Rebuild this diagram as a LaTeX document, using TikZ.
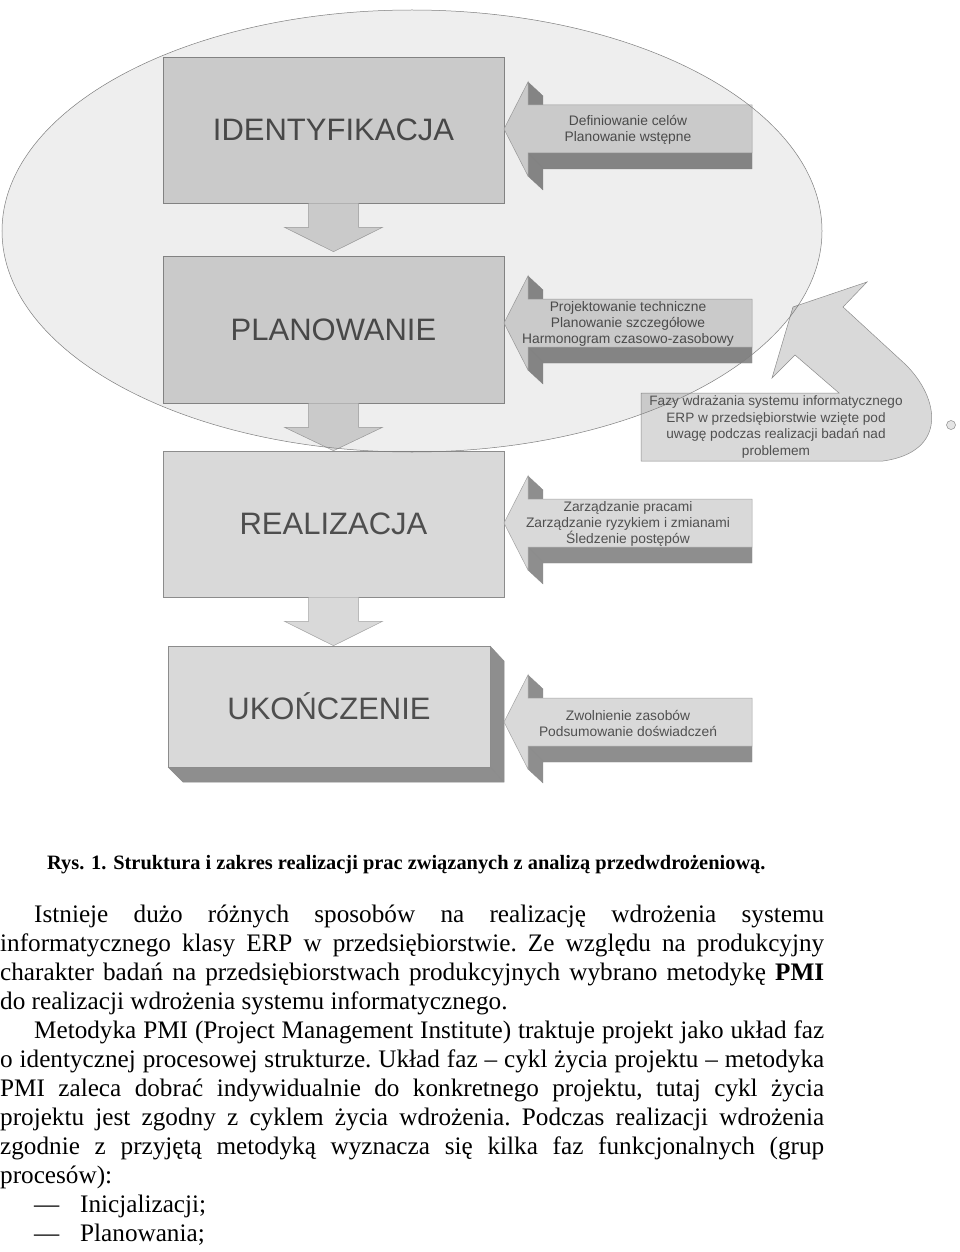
\documentclass[tikz,border=0pt]{standalone}
\usepackage{fontspec}
\setmainfont{Liberation Serif}
\newfontfamily\arialf{Liberation Sans}
\usetikzlibrary{calc}
\definecolor{boxfill}{HTML}{D9D9D9}
\definecolor{boxline}{HTML}{8C8C8C}
\definecolor{darkface}{HTML}{8E8E8E}
\definecolor{labelgray}{HTML}{4E4E4E}
\definecolor{smallgray}{HTML}{505050}
\newcommand\bodyfont{\fontsize{25.2}{29}\selectfont\frenchspacing}
\newcommand\sidearrow[1]{%
\begin{scope}[shift={(504,#1)}]
 \fill[darkface] (24,-47) -- (39,-33) -- (39,-24) -- (24,-24) -- cycle;
 \fill[darkface] (24,24) -- (248,24) -- (248,40) -- (39,40) -- (39,61) -- (24,47) -- cycle;
 \draw[boxline, line width=.4pt] (24,-47) -- (39,-33) (24,24) -- (39,39) (248,24) -- (248,40) -- (39,40) (39,61) -- (24,47);
 \draw[arrowfront] (0,0) -- (24,-47) -- (24,-24) -- (248,-24) -- (248,24) -- (24,24) -- (24,47) -- cycle;
\end{scope}}
\begin{document}
\begin{tikzpicture}[x=1pt,y=-1pt,
 phase/.style={draw=boxline, fill=boxfill, line width=0.6pt, inner sep=0pt,
   font=\arialf\fontsize{31}{36}\selectfont, text=labelgray},
 arrowfront/.style={draw=boxline!80, fill=boxfill, line width=0.5pt},
 flowarrow/.style={draw=boxline!80, fill=boxfill, line width=0.5pt},
 smalltext/.style={align=center, inner sep=0pt, font=\arialf\fontsize{13.8}{16}\selectfont, text=smallgray},
 bodyline/.style={anchor=base west, inner sep=0pt, font=\bodyfont}]
\useasboundingbox[fill=white] (0,0) rectangle (960,1252);

% phase boxes
\node[phase, minimum width=341pt, minimum height=146pt] (id) at (333.5,130) {IDENTYFIKACJA};
\node[phase, minimum width=341pt, minimum height=147pt] (pl) at (333.5,329.5) {PLANOWANIE};
\node[phase, minimum width=341pt, minimum height=146pt] (re) at (333.5,524) {REALIZACJA};
% 3D box for UKONCZENIE
\fill[darkface] (490,646) -- (504,661) -- (504,782) -- (183,782) -- (168,767) -- (490,767) -- cycle;
\draw[boxline, line width=.5pt] (490,646) -- (504,661) -- (504,782) -- (183,782) -- (168,767) (490,767) -- (504,782);
\node[phase, minimum width=322pt, minimum height=121pt] (uk) at (329,706.5) {UKOŃCZENIE};

% flow arrows between phases
\draw[flowarrow] ($(id.south)+(-25,0)$) -- ($(id.south)+(-25,24)$) -- ($(id.south)+(-49,24)$) -- ($(pl.north)+(0,-4)$) -- ($(id.south)+(49,24)$) -- ($(id.south)+(25,24)$) -- ($(id.south)+(25,0)$);
\draw[flowarrow] ($(pl.south)+(-25,0)$) -- ($(pl.south)+(-25,24)$) -- ($(pl.south)+(-49,24)$) -- (re.north) -- ($(pl.south)+(49,24)$) -- ($(pl.south)+(25,24)$) -- ($(pl.south)+(25,0)$);
\draw[flowarrow] ($(re.south)+(-25,0)$) -- ($(re.south)+(-25,24)$) -- ($(re.south)+(-49,24)$) -- ($(uk.north)+(4.5,0)$) -- ($(re.south)+(49,24)$) -- ($(re.south)+(25,24)$) -- ($(re.south)+(25,0)$);

% side arrows
\sidearrow{129}
\sidearrow{323}
\sidearrow{523}
\sidearrow{722}
\node[smalltext] (t1) at (628,130) {Definiowanie celów\\Planowanie wstępne};
\node[smalltext] (t2) at (628,324) {Projektowanie techniczne\\Planowanie szczegółowe\\Harmonogram czasowo-zasobowy};
\node[smalltext] (t3) at (628,524) {Zarządzanie pracami\\Zarządzanie ryzykiem i zmianami\\Śledzenie postępów};
\node[smalltext] (t4) at (628,723) {Zwolnienie zasobów\\Podsumowanie doświadczeń};

% callout with U-turn arrow
\draw[draw=boxline, fill=boxfill, line width=.5pt]
  (641,393) -- (839,393) -- (795,355) -- (772,378) -- (793,307) -- (867,282) -- (843,307)
  -- (905,364) .. controls (940,398) and (948,452) .. (883,461) -- (641,461) -- cycle;
\draw[boxline, fill=boxfill!70!white, line width=.5pt] (951,425) circle (4.5);

% ellipse overlay
\draw[draw=boxline!90!black, line width=.5pt, fill=black, fill opacity=0.065] (412,231) ellipse [x radius=410, y radius=221];

\node[smalltext, font=\arialf\fontsize{13.6}{16.7}\selectfont] (fz) at (776,427) {Fazy wdrażania systemu informatycznego\\ERP w przedsiębiorstwie wzięte pod\\uwagę podczas realizacji badań nad\\problemem};

% caption
\node[anchor=base west, inner sep=0pt, font=\fontsize{20.4}{24}\selectfont\bfseries] (cap) at (47,869) {Rys. 1. Struktura i zakres realizacji prac związanych z analizą przedwdrożeniową.};

% body text
\node[bodyline] (l1) at (34,922) {\makebox[790pt][s]{Istnieje dużo różnych sposobów na realizację wdrożenia systemu}};
\node[bodyline] (l2) at (0,951.05) {\makebox[824pt][s]{informatycznego klasy ERP w przedsiębiorstwie. Ze względu na produkcyjny}};
\node[bodyline] (l3) at (0,980.1) {\makebox[824pt][s]{charakter badań na przedsiębiorstwach produkcyjnych wybrano metodykę \textbf{PMI}}};
\node[bodyline] (l4) at (0,1009.15) {do realizacji wdrożenia systemu informatycznego.};
\node[bodyline] (l5) at (34,1038.2) {\makebox[790pt][s]{Metodyka PMI (Project Management Institute) traktuje projekt jako układ faz}};
\node[bodyline] (l6) at (0,1067.25) {\makebox[824pt][s]{o identycznej procesowej strukturze. Układ faz – cykl życia projektu – metodyka}};
\node[bodyline] (l7) at (0,1096.3) {\makebox[824pt][s]{PMI zaleca dobrać indywidualnie do konkretnego projektu, tutaj cykl życia}};
\node[bodyline] (l8) at (0,1125.35) {\makebox[824pt][s]{projektu jest zgodny z cyklem życia wdrożenia. Podczas realizacji wdrożenia}};
\node[bodyline] (l9) at (0,1154.4) {\makebox[824pt][s]{zgodnie z przyjętą metodyką wyznacza się kilka faz funkcjonalnych (grup}};
\node[bodyline] (l10) at (0,1183.45) {procesów):};
\node[bodyline] (d1) at (34,1212.5) {—};
\node[bodyline] (l11) at (80,1212.5) {Inicjalizacji;};
\node[bodyline] (d2) at (34,1241.55) {—};
\node[bodyline] (l12) at (80,1241.55) {Planowania;};
\end{tikzpicture}
\end{document}
